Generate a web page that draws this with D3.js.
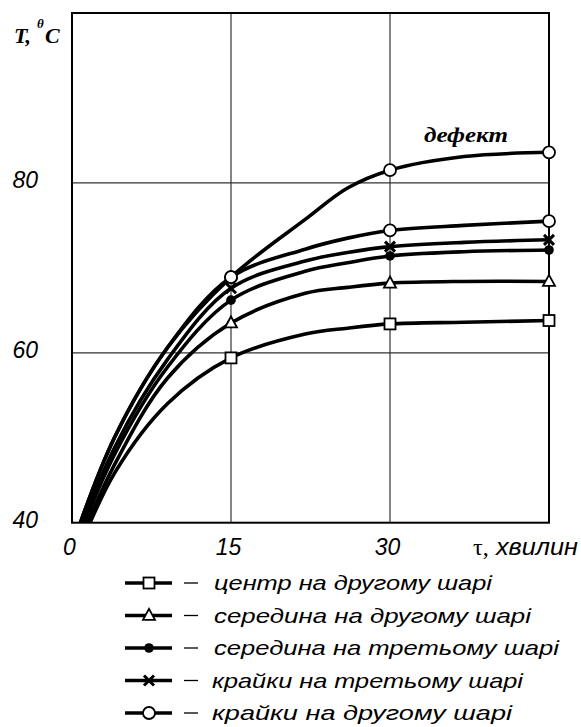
<!DOCTYPE html>
<html>
<head>
<meta charset="utf-8">
<script src="https://cdn.jsdelivr.net/npm/d3@7"></script>
<style>
  html, body { margin: 0; padding: 0; background: #fff; }
  svg { display: block; }
</style>
</head>
<body>
<svg id="chart" width="581" height="727"></svg>
<script>
// ---- data ----
const tau = [0, 4, 9, 15, 22, 26, 30, 37, 45];
const markerTau = [15, 30, 45];
const xTicks = [0, 15, 30];
const yTicks = [40, 60, 80];
const gridX = [15, 30];
const gridY = [60, 80];

const seriesNames = [
  "центр на другому шарі",
  "середина на другому шарі",
  "середина на третьому шарі",
  "крайки на третьому шарі",
  "крайки на другому шарі"
];
const seriesSymbols = ["square", "triangle", "dot", "cross", "circle"];
const centerVals   = [35.0, 45.8, 54.0, 59.4, 62.2, 62.9, 63.4, 63.6, 63.8];
const middle2Vals  = [35.6, 46.8, 57.0, 63.5, 67.0, 67.7, 68.2, 68.4, 68.4];
const middle3Vals  = [36.2, 48.0, 58.3, 66.2, 69.6, 70.6, 71.4, 71.9, 72.1];
const edges3Vals   = [36.6, 48.8, 59.2, 67.6, 70.8, 71.8, 72.5, 73.0, 73.3];
const edges2Vals   = [37.2, 50.0, 60.6, 68.9, 72.2, 73.5, 74.4, 75.0, 75.5];
const defectVals   = [37.2, 50.0, 60.6, 68.9, 75.7, 79.4, 81.5, 83.1, 83.6];
const defectLabel = "дефект";
const yLabelMain = "T,";
const yLabelSup = "θ";
const yLabelUnit = "C";
const xLabelSym = "τ,";
const xLabelText = "хвилин";

// ---- layout ----
const svg = d3.select("#chart");
const x = d3.scaleLinear().domain([0, 45]).range([72, 549]);
const y = d3.scaleLinear().domain([40, 100]).range([522.7, 13]);

const sansIt = "'Liberation Sans', Arial, sans-serif";
const serif = "'Liberation Serif', 'Times New Roman', serif";

svg.append("defs").append("clipPath").attr("id", "plotclip")
  .append("rect")
  .attr("x", x(0)).attr("y", y(100))
  .attr("width", x(45) - x(0)).attr("height", y(40) - y(100));

// grid
svg.append("g").selectAll("line").data(gridX).join("line")
  .attr("x1", d => x(d)).attr("x2", d => x(d))
  .attr("y1", y(100)).attr("y2", y(40))
  .attr("stroke", "#333").attr("stroke-width", 1.2);
svg.append("g").selectAll("line").data(gridY).join("line")
  .attr("x1", x(0)).attr("x2", x(45))
  .attr("y1", d => y(d)).attr("y2", d => y(d))
  .attr("stroke", "#333").attr("stroke-width", 1.2);

// axis tick labels
const yAxis = d3.axisLeft(y).tickValues(yTicks).tickSize(0).tickPadding(0);
const gy = svg.append("g").attr("transform", `translate(38,0)`).call(yAxis);
gy.select(".domain").remove();
gy.selectAll("text")
  .attr("font-family", sansIt).attr("font-style", "italic")
  .attr("font-size", 23).attr("fill", "#000")
  .attr("dy", "0.2em");

const xAxis = d3.axisBottom(x).tickValues(xTicks).tickSize(0).tickPadding(0);
const gx = svg.append("g").attr("transform", `translate(-3,0)`).call(xAxis);
gx.select(".domain").remove();
gx.selectAll("text")
  .attr("font-family", sansIt).attr("font-style", "italic")
  .attr("font-size", 23).attr("fill", "#000")
  .attr("y", 555).attr("dy", 0);

// x axis label
svg.append("text").attr("x", 473).attr("y", 555)
  .attr("font-family", serif).attr("font-size", 24)
  .text(xLabelSym);
svg.append("text").attr("x", 496).attr("y", 555)
  .attr("font-family", sansIt).attr("font-style", "italic").attr("font-size", 23)
  .attr("textLength", 82).attr("lengthAdjust", "spacingAndGlyphs")
  .text(xLabelText);

// y axis label
svg.append("text").attr("x", 14).attr("y", 43)
  .attr("font-family", serif).attr("font-style", "italic").attr("font-weight", "bold")
  .attr("font-size", 22).text(yLabelMain);
svg.append("text").attr("x", 37).attr("y", 28)
  .attr("font-family", serif).attr("font-style", "italic").attr("font-weight", "bold")
  .attr("font-size", 13).text(yLabelSup);
svg.append("text").attr("x", 45).attr("y", 43)
  .attr("font-family", serif).attr("font-style", "italic").attr("font-weight", "bold")
  .attr("font-size", 22).text(yLabelUnit);

// lines
const allSeries = [
  { vals: centerVals, sym: "square" },
  { vals: middle2Vals, sym: "triangle" },
  { vals: middle3Vals, sym: "dot" },
  { vals: edges3Vals, sym: "cross" },
  { vals: edges2Vals, sym: "circle" },
  { vals: defectVals, sym: "circle" }
];
const line = d3.line().x(d => x(d[0])).y(d => y(d[1])).curve(d3.curveCatmullRom.alpha(0.5));
const gl = svg.append("g").attr("clip-path", "url(#plotclip)");
allSeries.forEach(s => {
  gl.append("path")
    .attr("d", line(tau.map((t, i) => [t, s.vals[i]])))
    .attr("fill", "none").attr("stroke", "#000")
    .attr("stroke-width", 3.6).attr("stroke-linejoin", "round");
});

// frame
svg.append("rect")
  .attr("x", x(0)).attr("y", y(100))
  .attr("width", x(45) - x(0)).attr("height", y(40) - y(100))
  .attr("fill", "none").attr("stroke", "#000").attr("stroke-width", 2);

function drawMarker(g, sym, cx, cy) {
  if (sym === "square") {
    g.append("rect").attr("x", cx - 5.5).attr("y", cy - 5.5)
      .attr("width", 11).attr("height", 11)
      .attr("fill", "#fff").attr("stroke", "#000").attr("stroke-width", 1.8);
  } else if (sym === "triangle") {
    const h = 11, w = 12;
    g.append("path")
      .attr("d", `M${cx},${cy - h * 0.6} L${cx + w / 2},${cy + h * 0.4} L${cx - w / 2},${cy + h * 0.4} Z`)
      .attr("fill", "#fff").attr("stroke", "#000").attr("stroke-width", 1.8);
  } else if (sym === "dot") {
    g.append("circle").attr("cx", cx).attr("cy", cy).attr("r", 4.8).attr("fill", "#000");
  } else if (sym === "cross") {
    const r = 5;
    g.append("path")
      .attr("d", `M${cx - r},${cy - r} L${cx + r},${cy + r} M${cx - r},${cy + r} L${cx + r},${cy - r}`)
      .attr("stroke", "#000").attr("stroke-width", 3).attr("fill", "none");
  } else if (sym === "circle") {
    g.append("circle").attr("cx", cx).attr("cy", cy).attr("r", 6)
      .attr("fill", "#fff").attr("stroke", "#000").attr("stroke-width", 1.8);
  }
}

const gm = svg.append("g");
allSeries.forEach(s => {
  markerTau.forEach(t => {
    const i = tau.indexOf(t);
    drawMarker(gm, s.sym, x(t), y(s.vals[i]));
  });
});

// defect label
svg.append("text").attr("x", 424).attr("y", 142)
  .attr("font-family", serif).attr("font-style", "italic").attr("font-weight", "bold")
  .attr("font-size", 22)
  .attr("textLength", 84).attr("lengthAdjust", "spacingAndGlyphs")
  .text(defectLabel);

// legend
const legendY0 = 583, legendDY = 32.5;
const legendTextLen = [278, 317, 345, 311, 300];
const lg = svg.append("g");
seriesNames.forEach((name, i) => {
  const cy = legendY0 + i * legendDY;
  lg.append("line").attr("x1", 125).attr("x2", 172).attr("y1", cy).attr("y2", cy)
    .attr("stroke", "#000").attr("stroke-width", 3.6);
  drawMarker(lg, seriesSymbols[i], 149, cy);
  lg.append("line").attr("x1", 184).attr("x2", 198).attr("y1", cy).attr("y2", cy)
    .attr("stroke", "#000").attr("stroke-width", 1.3);
  lg.append("text").attr("x", i >= 3 ? 212 : 214).attr("y", cy + 7)
    .attr("font-family", sansIt).attr("font-style", "italic").attr("font-size", 21)
    .attr("textLength", legendTextLen[i]).attr("lengthAdjust", "spacingAndGlyphs")
    .text(name);
});
</script>
</body>
</html>
